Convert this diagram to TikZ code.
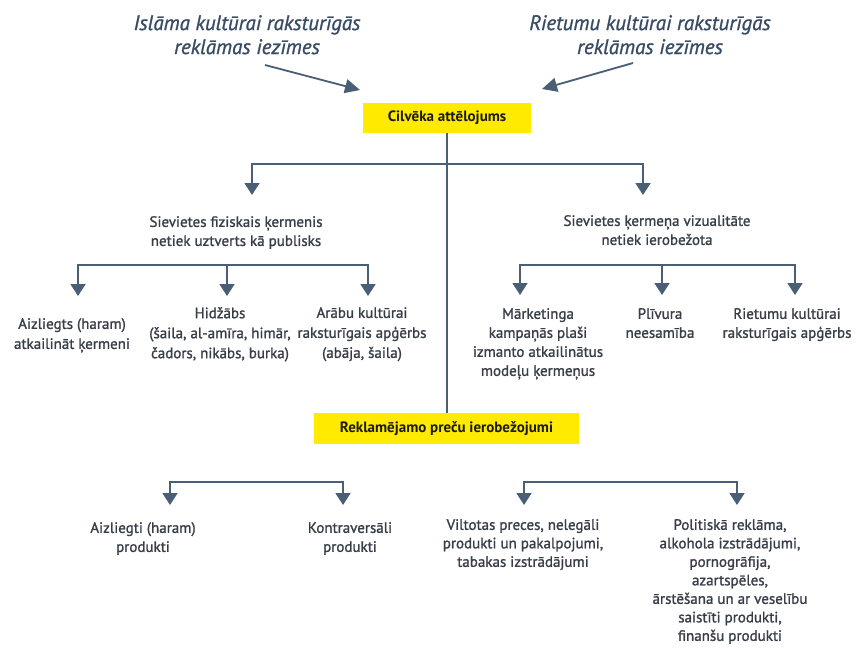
\documentclass[tikz,border=0pt]{standalone}
\usepackage{fontspec}
\setmainfont{PT Sans}
\newfontfamily\bodyf{PT Sans}[FakeBold=1.3]
\newfontfamily\ttlf{PT Sans Italic}[FakeBold=1.1]
\usetikzlibrary{arrows.meta}
\definecolor{bodytxt}{HTML}{383E48}
\definecolor{ttltxt}{HTML}{384B63}
\definecolor{lncol}{HTML}{4A5E75}
\definecolor{yel}{HTML}{FFEA00}
\definecolor{boxtxt}{HTML}{1A1A1A}
\begin{document}
\begin{tikzpicture}[x=1pt,y=-1pt,
  body/.style={align=center, text=bodytxt, font=\bodyf\fontsize{15}{19}\selectfont, inner sep=0pt, anchor=north},
  bodyw/.style={body, font=\bodyf\fontsize{15}{20}\selectfont},
  bodyn/.style={body, font=\bodyf\fontsize{15}{18.5}\selectfont},
  ttl/.style={align=center, text=ttltxt, font=\ttlf\fontsize{21}{24}\selectfont, inner sep=0pt, anchor=north},
  ybox/.style={fill=yel, text=boxtxt, font=\bfseries\fontsize{15}{18}\selectfont, inner sep=0pt},
  ln/.style={draw=lncol, line width=1.8pt},
  arr/.style={ln, -{Triangle[width=15pt,length=12pt]}, shorten >=#1},
  arr/.default=0pt,
  tarr/.style={ln, -{Triangle[width=14pt,length=15pt]}}
]
\useasboundingbox (0,0) rectangle (858,647);

% titles
\node[ttl] (t1) at (247,15) {Islāma kultūrai raksturīgās\\reklāmas iezīmes};
\node[ttl] (t2) at (650,15) {Rietumu kultūrai raksturīgās\\reklāmas iezīmes};

% yellow boxes
\node[ybox, minimum width=168pt, minimum height=30pt] (b1) at (447,118) {Cilvēka attēlojums};
\node[ybox, minimum width=265pt, minimum height=31pt] (b2) at (446.5,428.5) {Reklamējamo preču ierobežojumi};

% title arrows
\coordinate (ta1) at (265,65);
\coordinate (tb1) at (360,90);
\coordinate (ta2) at (633,63);
\coordinate (tb2) at (542,89);
\draw[tarr] (ta1) -- (tb1);
\draw[tarr] (ta2) -- (tb2);

% trunk
\draw[ln] (b1.south) -- (b1.south |- b2.north);

% level 1
\node[body] (s1) at (236,216) {Sievietes fiziskais ķermenis\\netiek uztverts kā publisks};
\node[body] (s2) at (657,215) {Sievietes ķermeņa vizualitāte\\netiek ierobežota};
\coordinate (j1) at (447,164);
\coordinate (j1l) at (252,164);
\coordinate (j1r) at (643,164);
\draw[arr=21pt] (j1) -| (j1l |- s1.north);
\draw[arr=20pt] (j1) -| (j1r |- s2.north);

% level 2 left
\node[bodyw] (c1) at (72,318) {Aizliegts (haram)\\atkailināt ķermeni};
\node[bodyw] (c2) at (220,307) {Hidžābs\\(šaila, al-amīra, himār,\\čadors, nikābs, burka)};
\node[bodyw] (c3) at (362,307) {Arābu kultūrai\\raksturīgais apģērbs\\(abāja, šaila)};
\coordinate (k1) at (227,265);
\coordinate (k1a) at (78,265);
\coordinate (k1b) at (368,265);
\draw[arr=22pt] (k1) -| (k1a |- c1.north);
\draw[arr=11pt] (k1) -- (k1 |- c2.north);
\draw[arr=11pt] (k1) -| (k1b |- c3.north);

% level 2 right
\node[body] (d1) at (538,308) {Mārketinga\\kampaņās plaši\\izmanto atkailinātus\\modeļu ķermeņus};
\node[body] (d2) at (660,308) {Plīvura\\neesamība};
\node[body] (d3) at (787,308) {Rietumu kultūrai\\raksturīgais apģērbs};
\coordinate (k2) at (662,265);
\coordinate (k2a) at (520,265);
\coordinate (k2b) at (795,265);
\draw[arr=13pt] (k2) -| (k2a |- d1.north);
\draw[arr=13pt] (k2) -- (k2 |- d2.north);
\draw[arr=13pt] (k2) -| (k2b |- d3.north);

% lower left
\node[body] (e1) at (143,522) {Aizliegti (haram)\\produkti};
\node[body] (e2) at (350,522) {Kontraversāli\\produkti};
\coordinate (m1) at (256,482);
\coordinate (m1a) at (170,482);
\coordinate (m1b) at (343,482);
\draw[arr=17pt] (m1) -| (m1a |- e1.north);
\draw[arr=17pt] (m1) -| (m1b |- e2.north);

% lower right
\node[bodyn] (f1) at (523,519) {Viltotas preces, nelegāli\\produkti un pakalpojumi,\\tabakas izstrādājumi};
\node[bodyn] (f2) at (730,519) {Politiskā reklāma,\\alkohola izstrādājumi,\\pornogrāfija,\\azartspēles,\\ārstēšana un ar veselību\\saistīti produkti,\\finanšu produkti};
\coordinate (m2) at (630,482);
\coordinate (m2a) at (524,482);
\coordinate (m2b) at (737,482);
\draw[arr=14pt] (m2) -| (m2a |- f1.north);
\draw[arr=14pt] (m2) -| (m2b |- f2.north);
\end{tikzpicture}
\end{document}
